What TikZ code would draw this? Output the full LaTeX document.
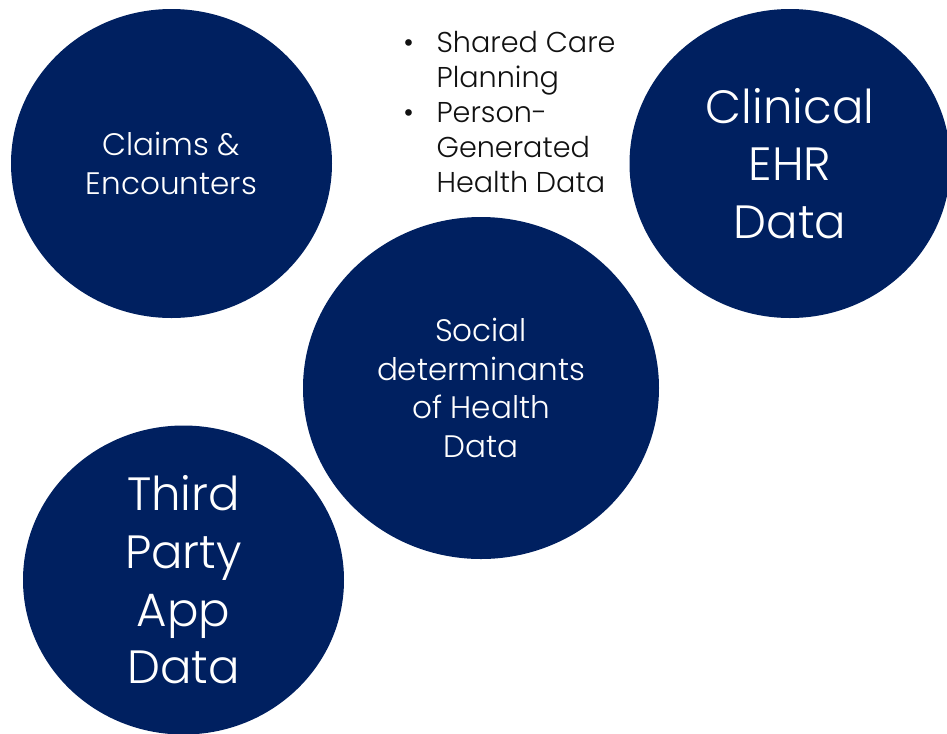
\documentclass[tikz,border=0pt]{standalone}
\usepackage{fontspec}
\setmainfont{Poppins}[UprightFont=* Light]
\usetikzlibrary{shapes.geometric}
\definecolor{navy}{HTML}{002060}
\definecolor{inkdark}{HTML}{111111}

\begin{document}
\begin{tikzpicture}[x=0.75pt, y=-0.75pt,
  bubble/.style={ellipse, fill=navy, inner sep=0pt, minimum width=240.75pt, minimum height=231.75pt},
  bigbubble/.style={bubble, minimum width=267pt, minimum height=256.5pt},
  smalltxt/.style={text=white, align=center, font=\fontsize{23.3}{28.9}\selectfont},
  largetxt/.style={text=white, align=center, font=\fontsize{35}{43.3}\selectfont},
  listtxt/.style={text=inkdark, align=left, inner sep=0pt, font=\fontsize{21.5}{26.3}\selectfont}
]
  \useasboundingbox (0,0) rectangle (947,733);

  % the four data sources
  \node[bubble] (claims) at (171.5, 163.5) {};
  \node[bubble] (ehr) at (790, 163.5) {};
  \node[bigbubble] (sdoh) at (481, 388) {};
  \node[bubble] (thirdparty) at (183.5, 580) {};

  \node[smalltxt] (claimslbl) at (claims) {Claims \&\\Encounters};
  \node[largetxt] (ehrlbl) at (ehr) {Clinical\\EHR\\Data};
  \node[smalltxt] (sdohlbl) at (sdoh) {Social\\determinants\\of Health\\Data};
  \node[largetxt] (thirdpartylbl) at (thirdparty) {Third\\Party\\App\\Data};

  % bullets above the middle bubble
  \node[listtxt, anchor=north west] (carelist) at (403, 31)
    {\makebox[25pt][l]{\textbullet}Shared Care\\
     \hspace*{25pt}Planning\\
     \makebox[25pt][l]{\textbullet}Person-\\
     \hspace*{25pt}Generated\\
     \hspace*{25pt}Health Data};
\end{tikzpicture}
\end{document}
